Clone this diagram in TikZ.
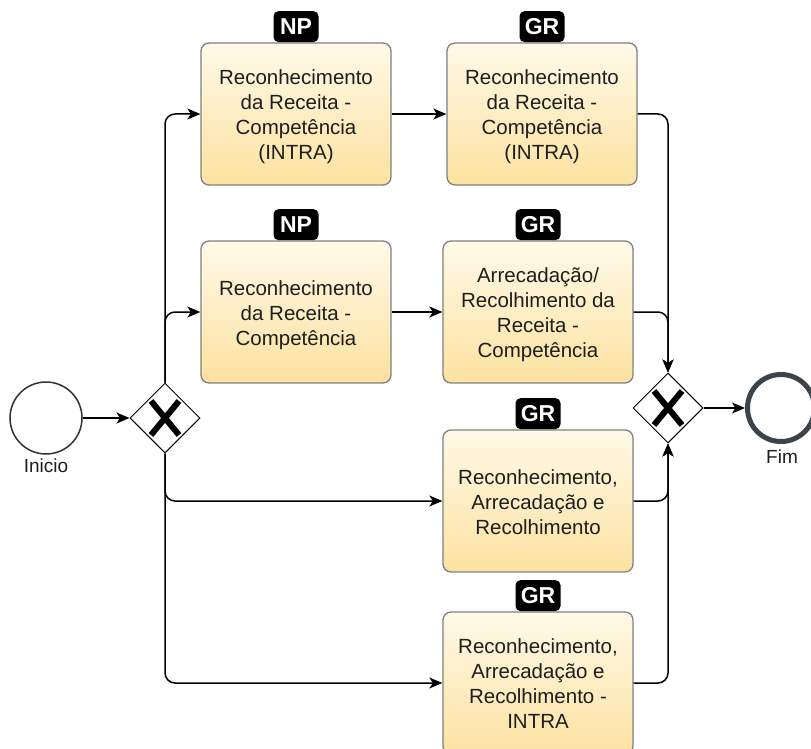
\documentclass[tikz,border=0pt]{standalone}
\usepackage{fontspec}
\setmainfont{Liberation Sans}
\usetikzlibrary{arrows.meta,shapes.geometric,calc}
\definecolor{boxtop}{HTML}{FFF9E8}
\definecolor{boxbot}{HTML}{FCE2A0}
\definecolor{boxline}{HTML}{808080}
\definecolor{txt}{HTML}{1E1E1E}
\definecolor{endc}{HTML}{3D434B}
\newcommand{\tasktext}[1]{\raisebox{0pt}[\dimexpr\height+6pt\relax][\depth]{\begin{tabular}{@{}c@{}}#1\end{tabular}}}
\tikzset{
  task/.style={rectangle, rounded corners=8pt, draw=boxline, line width=1.3pt,
    top color=boxtop, bottom color=boxbot, minimum width=190pt, minimum height=142pt,
    align=center, text=txt, inner sep=0pt, font=\fontsize{20.5}{25}\selectfont},
  badge/.style={rectangle, rounded corners=5pt, fill=black, text=white,
    minimum width=45pt, minimum height=31pt, inner sep=0pt,
    font=\fontsize{23}{25}\selectfont\bfseries, anchor=south},
  gate/.style={diamond, draw=black, fill=white, line width=1pt, minimum size=70pt, inner sep=0pt},
  xmark/.style={line width=6pt, black},
  flow/.style={draw=black, line width=1.5pt, rounded corners=10pt,
    -{Stealth[length=13pt,width=11pt,inset=3.5pt]}},
  lbl/.style={text=txt, font=\fontsize{19}{22}\selectfont, inner sep=0pt}
}
\begin{document}
\begin{tikzpicture}[x=1pt,y=-1pt]
\useasboundingbox (0,0) rectangle (811,749);
% events and gateways
\node[circle, draw=black!80, line width=1.5pt, fill=white, minimum size=72pt, inner sep=0pt] (start) at (46,418) {};
\node[lbl] (startlbl) at (46,466) {Inicio};
\node[gate] (g1) at (165,418) {};
\node[gate] (g2) at (668,408) {};
\node[circle, draw=endc, line width=5pt, fill=white, minimum size=67pt, inner sep=0pt] (end) at (781,408) {};
\node[lbl] (endlbl) at (782,457) {Fim};
% X marks
\draw[xmark] ($(g1)+(-14,-17)$) -- ($(g1)+(14,17)$) ($(g1)+(14,-17)$) -- ($(g1)+(-14,17)$);
% tasks
\node[task] (A) at (296,114) {\tasktext{Reconhecimento\\da Receita -\\Competência\\(INTRA)}};
\node[task] (B) at (542,114) {\tasktext{Reconhecimento\\da Receita -\\Competência\\(INTRA)}};
\node[task] (C) at (296,312) {\tasktext{Reconhecimento\\da Receita -\\Competência}};
\node[task] (D) at (538,312) {\tasktext{Arrecadação/\\Recolhimento da\\Receita -\\Competência}};
\node[task] (E) at (538,501) {\tasktext{Reconhecimento,\\Arrecadação e\\Recolhimento}};
\node[task] (F) at (538,683) {\tasktext{Reconhecimento,\\Arrecadação e\\Recolhimento -\\INTRA}};
% badges
\node[badge] (bA) at (A.north) {NP};
\node[badge] (bB) at (B.north) {GR};
\node[badge] (bC) at (C.north) {NP};
\node[badge] (bD) at (D.north) {GR};
\node[badge] (bE) at (E.north) {GR};
\node[badge] (bF) at (F.north) {GR};
% flows
\draw[flow] (start) -- (g1);
\draw[flow] (g1.north) |- (A.west);
\draw[flow] (g1.north) |- (C.west);
\draw[flow] (g1.south) |- (E.west);
\draw[flow] (g1.south) |- (F.west);
\draw[flow] (A) -- (B);
\draw[flow] (C) -- (D);
\draw[flow] (B.east) -| (g2.north);
\draw[flow] (D.east) -| (g2.north);
\draw[flow] (E.east) -| (g2.south);
\draw[flow] (F.east) -| (g2.south);
\draw[flow] (g2) -- (end);
\draw[xmark] ($(g2)+(-14,-17)$) -- ($(g2)+(14,17)$) ($(g2)+(14,-17)$) -- ($(g2)+(-14,17)$);
\end{tikzpicture}
\end{document}
